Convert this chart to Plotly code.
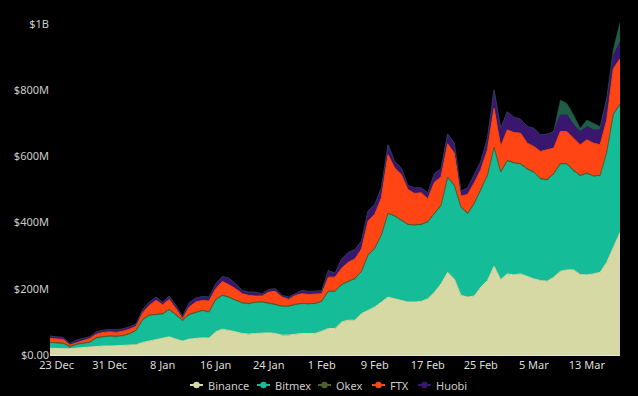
import pandas as pd
import plotly.graph_objects as go

dates = pd.date_range("2020-12-22", periods=87, freq="D")

# values in $M; *_top are cumulative stack tops
binance = [20, 19, 18, 19, 21, 23, 23, 27, 27, 27, 28, 28, 29, 31, 38, 42, 48, 52, 55, 48,
           42, 48, 50, 52, 51, 70, 78, 75, 70, 65, 63, 65, 67, 67, 65, 60, 60, 63, 65, 65,
           65, 72, 80, 80, 100, 105, 105, 125, 135, 145, 160, 175, 170, 165, 160, 160, 162, 170, 190, 215,
           250, 230, 180, 175, 178, 205, 225, 268, 228, 245, 242, 245, 237, 230, 225, 223, 235, 253, 257, 257,
           243, 242, 245, 250, 280, 325, 370]
bitmex_top = [35, 34, 33, 23, 30, 33, 36, 50, 53, 55, 54, 56, 62, 72, 105, 118, 120, 122, 135, 118,
              103, 120, 125, 132, 128, 165, 178, 172, 163, 155, 153, 157, 158, 155, 150, 145, 145, 150, 153, 152,
              153, 160, 190, 190, 210, 220, 228, 250, 300, 320, 360, 425, 418, 405, 392, 390, 392, 400, 425, 450,
              535, 510, 445, 425, 455, 500, 540, 625, 550, 585, 578, 575, 560, 550, 530, 527, 545, 575, 575, 555,
              540, 547, 538, 540, 610, 725, 755]
ftx_top = [50, 48, 47, 30, 36, 42, 50, 63, 68, 70, 68, 72, 78, 87, 128, 150, 165, 152, 168, 140,
           110, 145, 160, 165, 163, 200, 222, 212, 200, 185, 180, 178, 178, 190, 192, 175, 168, 180, 185, 183,
           183, 185, 235, 235, 262, 280, 290, 320, 405, 425, 475, 605, 565, 545, 500, 488, 490, 472, 522, 538,
           638, 610, 480, 485, 520, 560, 620, 745, 630, 680, 672, 670, 640, 630, 615, 620, 625, 675, 675, 655,
           635, 650, 640, 635, 710, 865, 895]
huobi_top = [57, 55, 53, 35, 45, 50, 55, 70, 75, 77, 76, 79, 85, 94, 138, 160, 175, 160, 178, 150,
             117, 158, 172, 177, 175, 215, 237, 232, 215, 195, 190, 190, 185, 198, 200, 180, 175, 185, 195, 192,
             192, 194, 255, 247, 290, 310, 318, 345, 435, 455, 505, 635, 585, 565, 512, 505, 505, 490, 548, 562,
             668, 640, 495, 505, 545, 585, 655, 800, 685, 735, 718, 712, 690, 685, 665, 667, 675, 725, 725, 695,
             675, 690, 680, 680, 765, 905, 945]
okex_top_extra = [0] * 77 + [45, 35, 30, 10, 20, 20, 10, 12, 20, 60]

okex_layer = 3
bitmex = [t - b for t, b in zip(bitmex_top, binance)]
okex = [okex_layer] * len(dates)
ftx = [f - b - okex_layer for f, b in zip(ftx_top, bitmex_top)]
huobi = [h - f for h, f in zip(huobi_top, ftx_top)]

names = ["Binance", "Bitmex", "Okex", "FTX", "Huobi"]
colors = ["#d6d9a3", "#14bd97", "#4f5f2a", "#ff4514", "#3a176e"]
series = [binance, bitmex, okex, ftx, huobi]

yticks = [0, 200e6, 400e6, 600e6, 800e6, 1000e6]
ytick_text = ["$0.00", "$200M", "$400M", "$600M", "$800M", "$1B"]

fig = go.Figure()
for name, col, vals in zip(names, colors, series):
    fig.add_trace(go.Scatter(
        x=dates, y=[v * 1e6 for v in vals], name=name, stackgroup="one",
        mode="lines", line=dict(color=col, width=1), fillcolor=col,
        legendgroup=name, showlegend=False, hoverinfo="x+y+name"))
fig.add_trace(go.Scatter(
    x=dates, y=[v * 1e6 for v in okex_top_extra], name="Okex", stackgroup="one",
    mode="lines", line=dict(color="#1f5e46", width=0.5), fillcolor="#1f5e46",
    legendgroup="Okex", showlegend=False))

# legend drawn beneath the plot (Highcharts style: short line with a dot)
L, R, T, B, W, H = 50, 18, 22, 41, 638, 396
pw, ph = W - L - R, H - T - B
def px(x):
    return (x - L) / pw
def py(y):
    return (H - B - y) / ph
leg_sym_x = [190, 257, 318, 372, 418]
leg_y = 385
shapes, annotations = [], []
for name, col, sx in zip(names, colors, leg_sym_x):
    shapes.append(dict(type="line", xref="paper", yref="paper", x0=px(sx), x1=px(sx + 13),
                       y0=py(leg_y), y1=py(leg_y), line=dict(color=col, width=2)))
    shapes.append(dict(type="circle", xref="paper", yref="paper", xsizemode="pixel",
                       ysizemode="pixel", xanchor=px(sx + 6.5), yanchor=py(leg_y),
                       x0=-3.2, x1=3.2, y0=-3.2, y1=3.2, fillcolor=col, line=dict(color=col, width=0)))
    annotations.append(dict(text=name, xref="paper", yref="paper", x=px(sx + 16), y=py(leg_y),
                            xanchor="left", yanchor="middle", showarrow=False,
                            font=dict(size=11, color="#cccccc")))

fig.update_layout(
    width=W, height=H,
    paper_bgcolor="#000000", plot_bgcolor="#000000",
    margin=dict(l=L, r=R, t=T, b=B, autoexpand=False),
    font=dict(family="Noto Sans", size=11, color="#cccccc"),
    showlegend=False,
    shapes=shapes, annotations=annotations,
    xaxis=dict(range=[dates[0], dates[-1]], tick0="2020-12-23", dtick=8 * 86400000,
               tickformat="%-d %b", showgrid=False, zeroline=False,
               showline=True, linecolor="#e6e6e6", linewidth=1,
               ticks="", tickfont=dict(size=11, color="#dddddd")),
    yaxis=dict(range=[0, 1006e6], tickvals=yticks, ticktext=ytick_text,
               showgrid=False, zeroline=False, showline=False, ticks="",
               tickfont=dict(size=11, color="#cccccc")),
)

fig.write_html("out.html", config={"displayModeBar": False},
               post_script="document.body.style.margin='0';document.body.style.background='#000';")
